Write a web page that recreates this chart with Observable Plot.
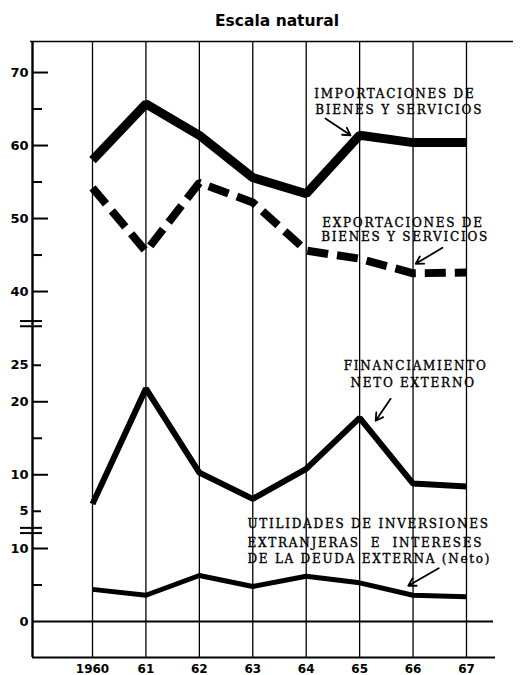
<!DOCTYPE html>
<html><head><meta charset="utf-8">
<script src="https://cdn.jsdelivr.net/npm/d3@7"></script>
<script src="https://cdn.jsdelivr.net/npm/@observablehq/plot@0.6"></script>
<style>
body{margin:0;background:#fff;width:526px;}
#title{box-sizing:border-box;height:32px;padding-top:12px;padding-left:28px;line-height:20px;font:bold 15.5px "DejaVu Sans";text-align:center;color:#000;}
</style></head>
<body>
<div id="title">Escala natural</div>
<div id="chart"></div>
<script>
// ---- data ----
const years = [1960, 1961, 1962, 1963, 1964, 1965, 1966, 1967];
const yearLabels = ["1960", "61", "62", "63", "64", "65", "66", "67"];
const importaciones = [58.0, 65.7, 61.4, 55.6, 53.4, 61.4, 60.4, 60.4];
const exportaciones = [54.2, 45.5, 54.9, 52.2, 45.6, 44.5, 42.5, 42.6];
const financiamiento = [6.0, 21.8, 10.3, 6.7, 10.8, 17.8, 8.8, 8.4];
const utilidades = [4.4, 3.6, 6.3, 4.8, 6.2, 5.3, 3.6, 3.4];

// y-axis ticks for the three segments of the broken scale
const ticksTop = [70, 65, 60, 55, 50, 45, 40];
const ticksTopKind = ["major", "minor", "major", "minor", "major", "minor", "major"];
const ticksMid = [25, 20, 15, 10, 5];
const ticksMidKind = ["short", "major", "minor", "major", "short"];
const ticksBot = [10, 5, 0];
const ticksBotKind = ["major", "minor", "zero"];
const labelsTop = ["70", "60", "50", "40"];
const labelsMid = ["25", "20", "10", "5"];
const labelsBot = ["10", "0"];

// annotations (left-aligned lines and centred lines)
const annotationsLeft = [
  {text: "IMPORTACIONES DE", x: 1964.15, seg: "top", v: 67.1},
  {text: "BIENES Y SERVICIOS", x: 1964.17, seg: "top", v: 64.8},
  {text: "EXPORTACIONES DE", x: 1964.30, seg: "top", v: 49.3},
  {text: "BIENES Y SERVICIOS", x: 1964.28, seg: "top", v: 47.4},
  {text: "UTILIDADES DE INVERSIONES", x: 1962.90, seg: "bot", v: 13.4},
  {text: "EXTRANJERAS  E  INTERESES", x: 1962.90, seg: "bot", v: 10.8},
  {text: "DE LA DEUDA EXTERNA (Neto)", x: 1962.90, seg: "bot", v: 8.6}
];
const annotationsCentre = [
  {text: "FINANCIAMIENTO", x: 1966.05, seg: "mid", v: 24.9},
  {text: "NETO EXTERNO", x: 1966.0, seg: "mid", v: 22.5}
];
const arrows = [
  {x1: 1964.36, y1: 63.7, x2: 1964.83, y2: 61.4, seg: "top"},
  {x1: 1966.55, y1: 46.0, x2: 1966.05, y2: 43.8, seg: "top"},
  {x1: 1965.58, y1: 20.4, x2: 1965.30, y2: 17.4, seg: "mid"},
  {x1: 1966.48, y1: 7.3, x2: 1965.91, y2: 4.9, seg: "bot"}
];

// ---- broken-scale mapping ----
const segOffset = {top: 5.2, mid: 10.1, bot: 0};
const V = (seg, v) => v + segOffset[seg];
const breaks = [12.47, 40.8];

const W = 526, H = 643, mL = 32, mR = 13, mT = 9, mB = 18;
const xDomain = [1958.877, 1967.88];
const yDomain = [-4.93, 79.45];
const pxX = (xDomain[1] - xDomain[0]) / (W - mL - mR);
const pxY = (yDomain[1] - yDomain[0]) / (H - mT - mB);
const x0 = xDomain[0];
const tickLen = {major: 16, minor: 10, short: 9, zero: 0};

const series = (vals, seg) => years.map((yr, i) => ({x: yr, y: V(seg, vals[i])}));
const tickRows = [
  ...ticksTop.map((v, i) => ({y: V("top", v), kind: ticksTopKind[i]})),
  ...ticksMid.map((v, i) => ({y: V("mid", v), kind: ticksMidKind[i]})),
  ...ticksBot.map((v, i) => ({y: V("bot", v), kind: ticksBotKind[i]}))
].filter(d => d.kind !== "zero");
const labelRows = [
  ...labelsTop.map(t => ({y: V("top", +t), t})),
  ...labelsMid.map(t => ({y: V("mid", +t), t})),
  ...labelsBot.map(t => ({y: V("bot", +t), t}))
];
const breakRows = breaks.flatMap(b => [b - 2.6 * pxY, b + 2.6 * pxY]);
const annotStyle = {fontSize: 12, fontFamily: "DejaVu Serif", fill: "#000", stroke: "#000", strokeWidth: 0.35};

const chart = Plot.plot({
  width: W, height: H,
  marginLeft: mL, marginRight: mR, marginTop: mT, marginBottom: mB,
  x: {domain: xDomain, axis: null},
  y: {domain: yDomain, axis: null},
  style: {background: "#fff", overflow: "visible"},
  marks: [
    // vertical grid lines at years
    Plot.ruleX(years, {x: d => d, y1: yDomain[0], y2: yDomain[1], stroke: "#000", strokeWidth: 1.3}),
    // left axis
    Plot.ruleX([x0], {y1: yDomain[0], y2: yDomain[1], stroke: "#000", strokeWidth: 2.4}),
    // top and bottom borders, zero line
    Plot.ruleY([yDomain[1]], {x1: x0 - 2 * pxX, x2: xDomain[1], stroke: "#000", strokeWidth: 1.6}),
    Plot.ruleY([yDomain[0]], {x1: x0, x2: x0 + 463 * pxX, stroke: "#000", strokeWidth: 2.2}),
    Plot.ruleY([V("bot", 0)], {x1: x0, x2: x0 + 461 * pxX, stroke: "#000", strokeWidth: 2}),
    // ticks
    Plot.ruleY(tickRows, {y: "y", x1: x0, x2: d => x0 + tickLen[d.kind] * pxX, stroke: "#000", strokeWidth: 2}),
    // break marks
    Plot.ruleY(breaks, {y: d => d, x1: x0 - 11 * pxX, x2: x0 + 10 * pxX, stroke: "#fff", strokeWidth: 5}),
    Plot.ruleY(breakRows, {y: d => d, x1: x0 - 12 * pxX, x2: x0 + 10 * pxX, stroke: "#000", strokeWidth: 2}),
    Plot.ruleX([x0], {y1: breaks[0] - 2 * pxY, y2: breaks[0] + 2 * pxY, stroke: "#000", strokeWidth: 2.4}),
    Plot.ruleX([x0], {y1: breaks[1] - 2 * pxY, y2: breaks[1] + 2 * pxY, stroke: "#000", strokeWidth: 2.4}),
    // tick labels
    Plot.text(labelRows, {x: x0, y: "y", text: "t", textAnchor: "end", dx: -4, fontSize: 13, fontWeight: "bold", fontFamily: "DejaVu Sans"}),
    Plot.text(years, {x: d => d, y: yDomain[0], text: (d, i) => yearLabels[i], dy: 12, fontSize: 12, fontWeight: "bold", fontFamily: "DejaVu Sans"}),
    // series
    Plot.line(series(importaciones, "top"), {x: "x", y: "y", stroke: "#000", strokeWidth: 9, strokeLinejoin: "miter", strokeLinecap: "butt"}),
    Plot.line(series(exportaciones, "top"), {x: "x", y: "y", stroke: "#000", strokeWidth: 8, strokeDasharray: "21,9", strokeLinejoin: "miter", strokeLinecap: "butt"}),
    Plot.line(series(financiamiento, "mid"), {x: "x", y: "y", stroke: "#000", strokeWidth: 6, strokeLinejoin: "miter", strokeLinecap: "butt"}),
    Plot.line(series(utilidades, "bot"), {x: "x", y: "y", stroke: "#000", strokeWidth: 5, strokeLinejoin: "round", strokeLinecap: "butt"}),
    // annotations
    Plot.text(annotationsLeft, {x: "x", y: d => V(d.seg, d.v), text: "text", textAnchor: "start", ...annotStyle}),
    Plot.text(annotationsCentre, {x: "x", y: d => V(d.seg, d.v), text: "text", textAnchor: "middle", ...annotStyle}),
    Plot.arrow(arrows, {x1: "x1", y1: d => V(d.seg, d.y1), x2: "x2", y2: d => V(d.seg, d.y2), stroke: "#000", strokeWidth: 1.8, headLength: 7})
  ]
});
// widen the lettering of the annotations (spaced capitals, as in the original)
const annotTexts = new Set([...annotationsLeft, ...annotationsCentre].map(d => d.text));
d3.select(chart).selectAll("text")
  .filter(function() { return annotTexts.has(this.textContent); })
  .style("letter-spacing", "1.75px")
  .style("white-space", "pre");
document.getElementById("chart").appendChild(chart);
</script>
</body></html>
